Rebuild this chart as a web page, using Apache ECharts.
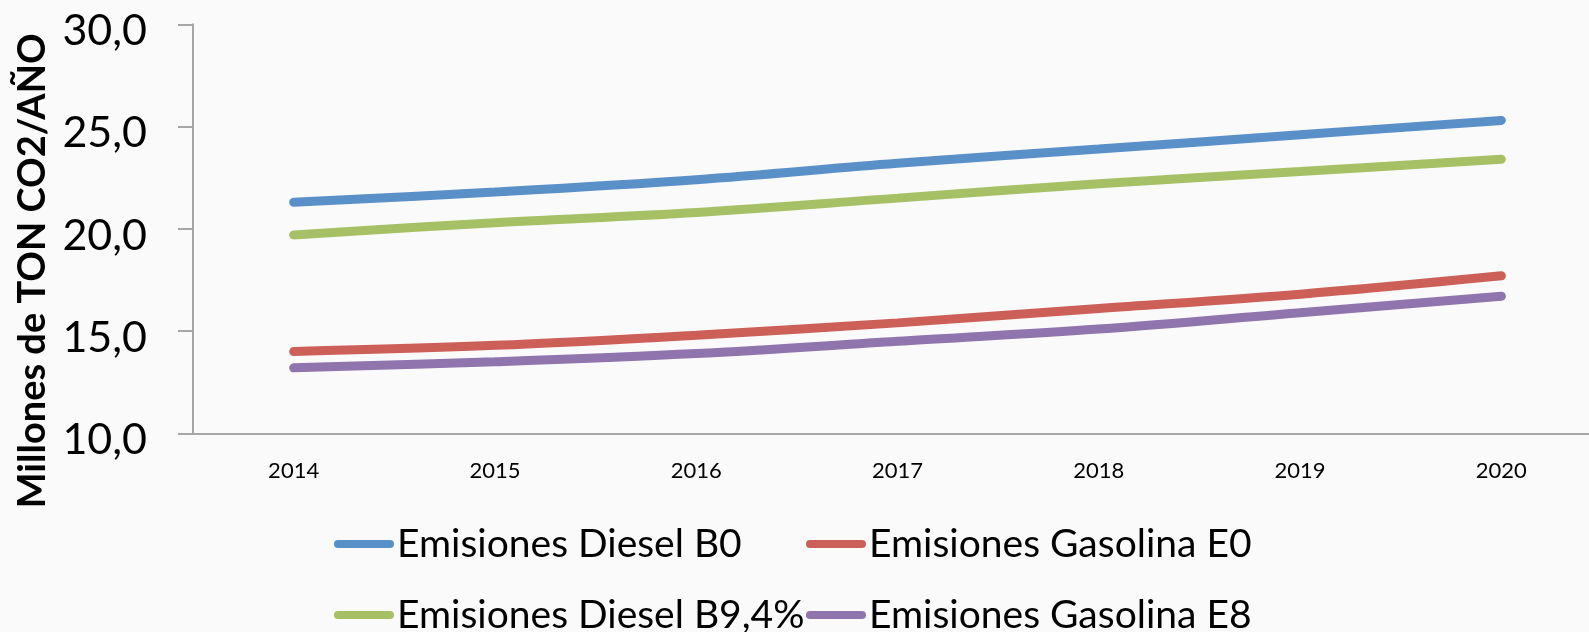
<!DOCTYPE html>
<html>
<head>
<meta charset="utf-8">
<title>Emisiones</title>
<script src="https://cdn.jsdelivr.net/npm/echarts@6/dist/echarts.min.js"></script>
<style>
  html, body { margin: 0; padding: 0; background: #fafafa; }
  #chartLine { width: 1589px; height: 632px; }
</style>
</head>
<body>
<div id="chartLine"></div>
<script>
// años del eje x
const years = ['2014', '2015', '2016', '2017', '2018', '2019', '2020']
// millones de ton CO2 por año
const dieselB0 = [21.3, 21.8, 22.4, 23.2, 23.9, 24.6, 25.3]
const gasolinaE0 = [14.0, 14.3, 14.8, 15.4, 16.1, 16.8, 17.7]
const dieselB94 = [19.7, 20.3, 20.8, 21.5, 22.2, 22.8, 23.4]
const gasolinaE8 = [13.2, 13.5, 13.9, 14.5, 15.1, 15.9, 16.7]

const names = ['Emisiones Diesel B0', 'Emisiones Gasolina E0', 'Emisiones Diesel B9,4%', 'Emisiones Gasolina E8']
const colors = ['#5a90c8', '#cc5f57', '#a6c165', '#8f74ae']
const font = 'Lato, "Open Sans", sans-serif'
const pill = 'path://M4,0 L56,0 A4,4 0 0 1 56,8 L4,8 A4,4 0 0 1 4,0 Z'

// una leyenda por elemento para dejarlas en dos columnas
function legend (left, top, name) {
  return {
    left: left,
    top: top,
    padding: 0,
    icon: pill,
    itemWidth: 60,
    itemHeight: 8,
    textStyle: {
      color: '#000',
      fontFamily: font,
      fontSize: 39,
      lineHeight: 40,
      padding: [0, 0, 0, -2]
    },
    data: [name]
  }
}

function line (idx, data) {
  return {
    name: names[idx],
    type: 'line',
    data: data,
    smooth: 0.35,
    symbol: 'none',
    lineStyle: { width: 9, color: colors[idx], cap: 'round' },
    itemStyle: { color: colors[idx] }
  }
}

const chartLine = echarts.init(document.getElementById('chartLine'))
const option = {
  animation: false,
  backgroundColor: '#fafafa',
  color: colors,
  legend: [
    legend(334, 524, names[0]),
    legend(806, 524, names[1]),
    legend(334, 595, names[2]),
    legend(806, 595, names[3])
  ],
  grid: {
    left: 193,
    top: 24.3,
    width: 1409,
    height: 409,
    outerBoundsMode: 'none'
  },
  xAxis: {
    type: 'category',
    data: years,
    boundaryGap: true,
    axisLine: { lineStyle: { color: '#a6a6a6', width: 2 } },
    axisTick: { length: 8, lineStyle: { color: '#a6a6a6', width: 2 } },
    axisLabel: { color: '#000', fontFamily: font, fontSize: 22, margin: 27 },
    splitLine: { show: false }
  },
  yAxis: {
    type: 'value',
    min: 10,
    max: 30,
    interval: 5,
    name: 'Millones de TON CO2/AÑO',
    nameLocation: 'middle',
    nameRotate: 90,
    nameGap: 138,
    nameTextStyle: {
      color: '#000',
      fontFamily: font,
      fontWeight: 'bold',
      fontSize: 38,
      padding: [0, 84, 0, 0]
    },
    axisLine: { show: true, lineStyle: { color: '#a6a6a6', width: 2 } },
    axisTick: { show: true, length: 15, lineStyle: { color: '#a6a6a6', width: 2 } },
    axisLabel: {
      margin: 46,
      formatter: v => '{n|' + v.toFixed(1).replace('.', ',') + '}',
      rich: {
        n: {
          color: '#000',
          fontFamily: font,
          fontSize: 43,
          padding: [14, 0, 0, 0]
        }
      }
    },
    splitLine: { show: false }
  },
  series: [
    line(0, dieselB0),
    line(1, gasolinaE0),
    line(2, dieselB94),
    line(3, gasolinaE8)
  ]
}
chartLine.setOption(option)
</script>
</body>
</html>
